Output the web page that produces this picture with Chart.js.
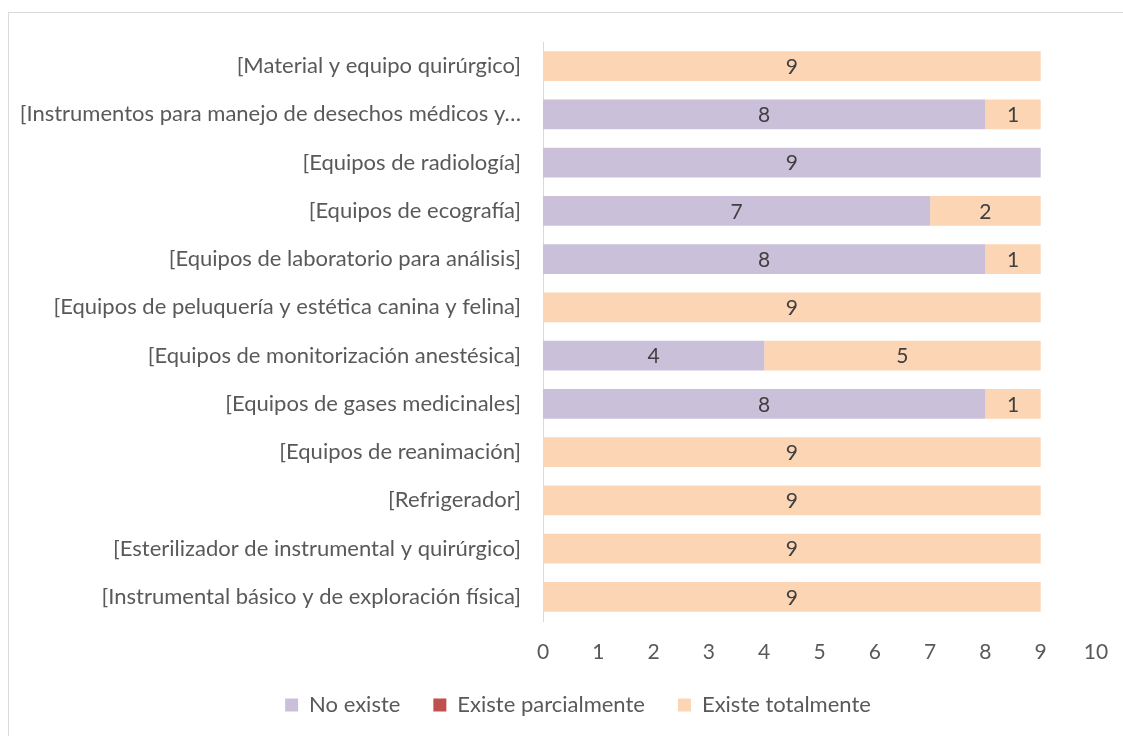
<!DOCTYPE html>
<html>
<head>
<meta charset="utf-8">
<script src="https://cdn.jsdelivr.net/npm/chart.js@4.4.0/dist/chart.umd.min.js"></script>
<style>
  html, body { margin: 0; padding: 0; background: #fff; overflow: hidden; }
  #wrap { position: absolute; left: 0; top: 0; width: 1123px; height: 736px; }
  #frame { position: absolute; left: 8px; top: 12px; width: 1200px; height: 800px; border: 1px solid #d9d9d9; pointer-events: none; }
</style>
</head>
<body>
<div id="wrap"><canvas id="myChart1" width="1123" height="736"></canvas></div>
<div id="frame"></div>
<script>
// categories, top to bottom
const categories = [
  "[Material y equipo quirúrgico]",
  "[Instrumentos para manejo de desechos médicos y…",
  "[Equipos de radiología]",
  "[Equipos de ecografía]",
  "[Equipos de laboratorio para análisis]",
  "[Equipos de peluquería y estética canina y felina]",
  "[Equipos de monitorización anestésica]",
  "[Equipos de gases medicinales]",
  "[Equipos de reanimación]",
  "[Refrigerador]",
  "[Esterilizador de instrumental y quirúrgico]",
  "[Instrumental básico y de exploración física]"
];
const noExiste = [0, 8, 9, 7, 8, 0, 4, 8, 0, 0, 0, 0];
const parcial  = [0, 0, 0, 0, 0, 0, 0, 0, 0, 0, 0, 0];
const totalmente = [9, 1, 0, 2, 1, 9, 5, 1, 9, 9, 9, 9];
const seriesNames = ["No existe", "Existe parcialmente", "Existe totalmente"];
const barColors = ["#cbc0da", "#c0504d", "#fcd5b4"];
const xTicks = [0, 1, 2, 3, 4, 5, 6, 7, 8, 9, 10];

const FONT = "Lato, 'Open Sans', sans-serif";

// value labels in the middle of each segment
const segmentLabels = {
  id: "segmentLabels",
  afterDatasetsDraw(chart) {
    const ctx = chart.ctx;
    ctx.save();
    ctx.font = "21px " + FONT;
    ctx.fillStyle = "#404040";
    ctx.textAlign = "center";
    ctx.textBaseline = "middle";
    chart.data.datasets.forEach((ds, i) => {
      const meta = chart.getDatasetMeta(i);
      meta.data.forEach((bar, j) => {
        const v = ds.data[j];
        if (!v) return;
        ctx.fillText(String(v), (bar.x + bar.base) / 2, bar.y + 1);
      });
    });
    ctx.restore();
  }
};

// nudge the legend a bit to the right, like the original
const legendShift = {
  id: "legendShift",
  afterLayout(chart) {
    chart.legend.left += 30;
    chart.legend.right += 30;
  }
};

const hydroChart = document.getElementById("myChart1");

new Chart(hydroChart, {
  type: "bar",
  data: {
    labels: categories,
    datasets: [noExiste, parcial, totalmente].map((d, i) => ({
      label: seriesNames[i],
      data: d,
      backgroundColor: barColors[i],
      barPercentage: 0.62,
      categoryPercentage: 1
    }))
  },
  options: {
    indexAxis: "y",
    responsive: false,
    animation: false,
    layout: { padding: { top: 42, right: 27, bottom: 10, left: 0 } },
    scales: {
      x: {
        stacked: true,
        min: 0,
        max: 10,
        afterBuildTicks: s => { s.ticks = xTicks.map(v => ({ value: v })); },
        grid: { display: false, drawTicks: false },
        border: { display: false },
        ticks: { color: "#595959", font: { family: FONT, size: 21 }, padding: 19 },
        afterFit: s => { s.height = 40; s.paddingRight = 0; s.paddingLeft = 0; }
      },
      y: {
        stacked: true,
        grid: { display: false, drawTicks: false },
        border: { display: true, color: "#d9d9d9", width: 1 },
        ticks: { color: "#595959", font: { family: FONT, size: 22 }, padding: 22, autoSkip: false },
        afterFit: s => { s.width = 543; }
      }
    },
    plugins: {
      legend: {
        position: "bottom",
        labels: {
          color: "#595959",
          font: { family: FONT, size: 22 },
          boxWidth: 13,
          boxHeight: 13,
          padding: 33
        }
      },
      tooltip: { enabled: false }
    }
  },
  plugins: [segmentLabels, legendShift]
});
</script>
</body>
</html>
